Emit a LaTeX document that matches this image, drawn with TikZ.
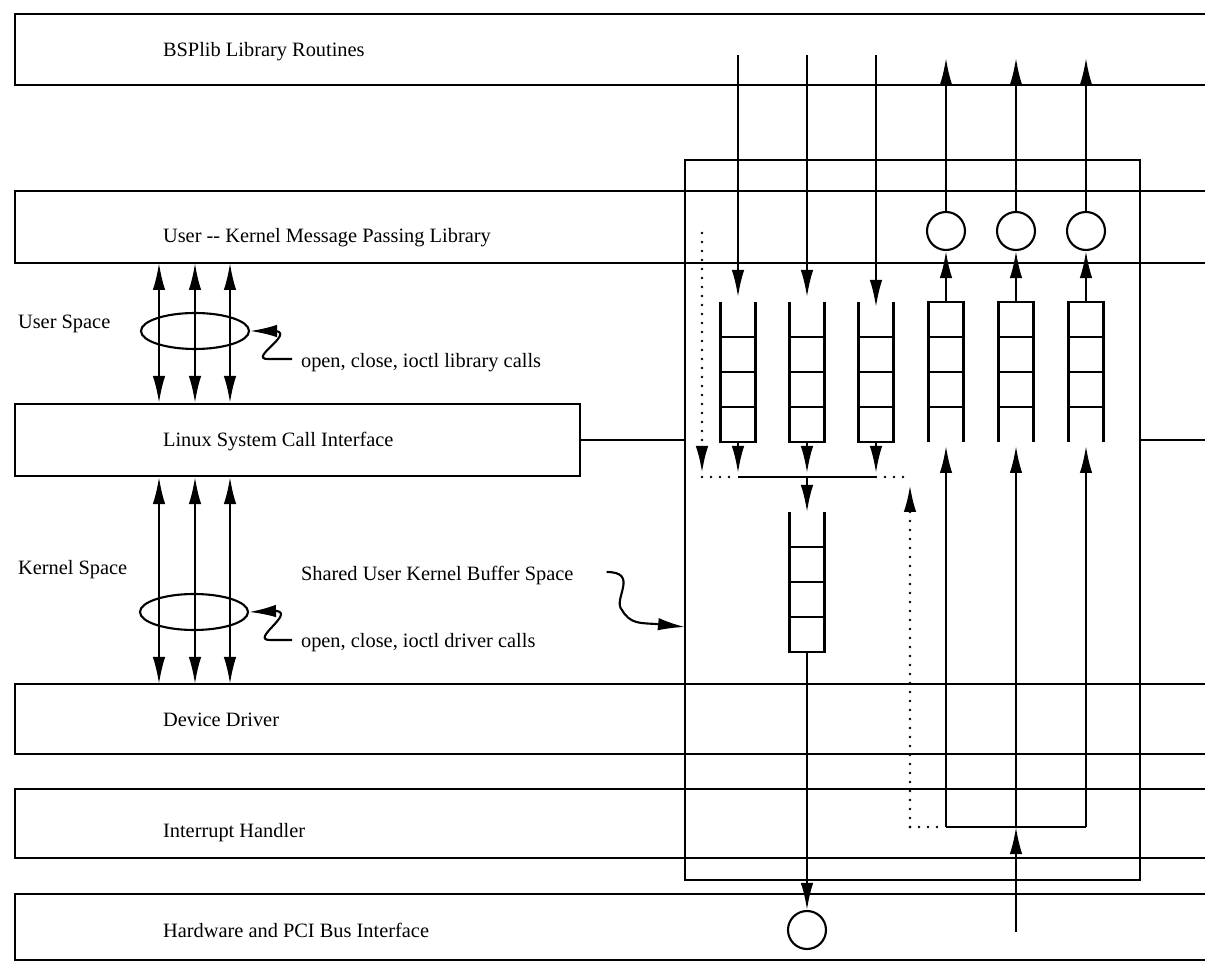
\documentclass[tikz,border=0pt]{standalone}
\usepackage{fontspec}
\setmainfont{Liberation Serif}
\usetikzlibrary{arrows.meta,shapes.geometric,calc}

\begin{document}
\begin{tikzpicture}[x=0.2mm, y=-0.2mm, line width=1.2pt,
  every node/.style={font=\fontsize{11.6}{14}\selectfont},
  lbl/.style={anchor=west, inner sep=0pt},
  arr/.style={-{Latex[length=5.4mm, width=2.5mm]}},
  darr/.style={{Latex[length=5.4mm, width=2.5mm]}-{Latex[length=5.4mm, width=2.5mm]}},
  dotline/.style={dash pattern=on 0pt off 1.8mm, line cap=round, line width=1.5pt},
  circ/.style={draw, circle, minimum size=7.6mm, inner sep=0pt},
  bundle/.style={draw, ellipse, minimum width=21.6mm, minimum height=7.2mm, inner sep=0pt},
  inq/.pic={
    \draw (-17.5,-70) -- (-17.5,70) -- (17.5,70) -- (17.5,-70)
          (-17.5,-35) -- (17.5,-35) (-17.5,0) -- (17.5,0) (-17.5,35) -- (17.5,35);
    \coordinate (-top) at (0,-70);
    \coordinate (-bot) at (0,70);
  },
  outq/.pic={
    \draw (-17.5,70) -- (-17.5,-70) -- (17.5,-70) -- (17.5,70)
          (-17.5,-35) -- (17.5,-35) (-17.5,0) -- (17.5,0) (-17.5,35) -- (17.5,35);
    \coordinate (-top) at (0,-70);
    \coordinate (-bot) at (0,70);
  }]
\useasboundingbox (0,0) rectangle (1205,963);

% Layer bands, open to the right edge
\draw (1205,14) -| (15,85) -- (1205,85);
\draw (1205,191) -| (15,263) -- (1205,263);
\draw (1205,684) -| (15,754) -- (1205,754);
\draw (1205,789) -| (15,858) -- (1205,858);
\draw (1205,894) -| (15,960) -- (1205,960);
\node[lbl] (bsp) at (162,52) {BSPlib Library Routines};
\node[lbl] (ukl) at (162,238) {User -{}- Kernel Message Passing Library};
\node[lbl] (dev) at (162,720) {Device Driver};
\node[lbl] (irh) at (162,833) {Interrupt Handler};
\node[lbl] (hwb) at (162,930) {Hardware and PCI Bus Interface};

% System call box and shared buffer box
\node[draw, minimum width=113mm, minimum height=14.4mm, inner sep=0pt] (sci) at (297.5,440) {};
\node[lbl] (scitxt) at (162,442) {Linux System Call Interface};
\node[draw, minimum width=91mm, minimum height=144mm, inner sep=0pt] (buf) at (912.5,520) {};
\coordinate (sciR) at (1205,440);
\draw (sci.east) -- (sci.east -| buf.west);
\draw (buf.east |- sciR) -- (sciR);

% Left side: spaces and call bundles
\node[lbl] (usp) at (17,324) {User Space};
\node[lbl] (ksp) at (17,570) {Kernel Space};
\node[bundle] (uell) at (195,331) {};
\node[bundle] (kell) at (194,612) {};
\coordinate (ua1) at (159,263);
\coordinate (ua2) at (195,263);
\coordinate (ua3) at (230,263);
\coordinate (ka1) at (159,684);
\coordinate (ka2) at (195,684);
\coordinate (ka3) at (230,684);
\draw[darr] (ua1) -- (ua1 |- sci.north);
\draw[darr] (ua2) -- (ua2 |- sci.north);
\draw[darr] (ua3) -- (ua3 |- sci.north);
\draw[darr] (ka1 |- sci.south) -- (ka1);
\draw[darr] (ka2 |- sci.south) -- (ka2);
\draw[darr] (ka3 |- sci.south) -- (ka3);

% Labels with wavy pointers
\node[lbl] (libtxt) at (300,363) {open, close, ioctl library calls};
\node[lbl] (drvtxt) at (300,643) {open, close, ioctl driver calls};
\node[lbl] (shtxt) at (300,575) {Shared User Kernel Buffer Space};
\coordinate (bufin) at (685,627);
\draw[arr] ([shift={(-8,-4)}]libtxt.west) -- (268,359) .. controls (248,359) and (294,334) .. (276,331) -- (uell.east);
\draw[arr] ([shift={(-8,-3)}]drvtxt.west) -- (270,640) .. controls (250,640) and (294,614) .. (277,611) -- (kell.east);
\draw[arr] ([shift={(32,-3)}]shtxt.east) .. controls (640,572) and (612,600) .. (622,610) .. controls (630,624) and (640,623) .. (656,624) -- (bufin);

% Queues
\pic (iq1) at (738,372) {inq};
\pic (iq2) at (807,372) {inq};
\pic (iq3) at (876,372) {inq};
\pic (oq1) at (946,372) {outq};
\pic (oq2) at (1016,372) {outq};
\pic (oq3) at (1086,372) {outq};
\pic (cq) at (807,582) {inq};

% Incoming messages
\coordinate (in1) at (738,55);
\coordinate (in2) at (807,55);
\coordinate (in3) at (876,55);
\draw[arr] (in1) -- ([yshift=1mm]iq1-top);
\draw[arr] (in2) -- ([yshift=1mm]iq2-top);
\draw[arr] (in3) -- ([yshift=-1mm]iq3-top);

% Outgoing messages
\node[circ] (oc1) at (946,231) {};
\node[circ] (oc2) at (1016,231) {};
\node[circ] (oc3) at (1086,231) {};
\coordinate (out1) at (946,58);
\coordinate (out2) at (1016,58);
\coordinate (out3) at (1086,58);
\draw[arr] (oq1-top) -- (oc1.south);
\draw[arr] (oq2-top) -- (oc2.south);
\draw[arr] (oq3-top) -- (oc3.south);
\draw[arr] (oc1.north) -- (out1);
\draw[arr] (oc2.north) -- (out2);
\draw[arr] (oc3.north) -- (out3);

% Merge into the send queue
\coordinate (m1) at (738,477);
\coordinate (m2) at (807,477);
\coordinate (m3) at (876,477);
\draw[arr] (iq1-bot) -- ([yshift=0.8mm]m1);
\draw[arr] (iq2-bot) -- ([yshift=0.8mm]m2);
\draw[arr] (iq3-bot) -- ([yshift=0.8mm]m3);
\draw (m1) -- (m3);
\draw[arr] (m2) -- (cq-top);
\node[circ] (hwc) at (807,930) {};
\draw[arr] (cq-bot) -- (hwc.north);

% Dotted paths
\coordinate (dl0) at (702,233);
\coordinate (dl1) at (702,477);
\coordinate (dr0) at (910,827);
\coordinate (dr1) at (910,477);
\draw[dotline, arr] (dl0) -- ([yshift=0.8mm]dl1);
\draw[dotline] (dl1) -- (m1);
\draw[dotline] (m3) -- (dr1);
\draw[dotline, arr] (dr0) -- ($(dr1)+(0,8)$);

% Interrupt fan-out
\coordinate (ir1) at (946,827);
\coordinate (ir2) at (1016,827);
\coordinate (ir3) at (1086,827);
\coordinate (irq) at (1016,932);
\draw[dotline] (dr0) -- (ir1);
\draw (ir1) -- (ir3);
\draw[arr] (ir1) -- ([yshift=-0.8mm]oq1-bot);
\draw[arr] (ir2) -- ([yshift=-0.8mm]oq2-bot);
\draw[arr] (ir3) -- ([yshift=-0.8mm]oq3-bot);
\draw[arr] (irq) -- (ir2);
\end{tikzpicture}
\end{document}
